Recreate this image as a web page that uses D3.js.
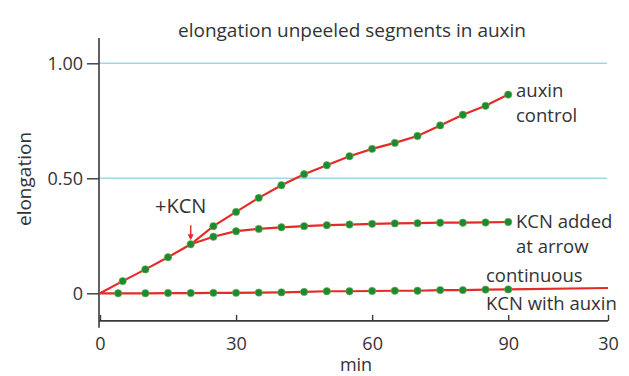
<!DOCTYPE html>
<html><head><meta charset="utf-8">
<script src="https://cdn.jsdelivr.net/npm/d3@7"></script>
<style>
html,body{margin:0;padding:0;background:#fff;}
text{font-family:"Open Sans",sans-serif;fill:#333;}
</style></head>
<body><svg id="c" width="629" height="376"></svg>
<script>
// ---- data ----
const auxinMin = [0,5,10,15,20,25,30,35,40,45,50,55,60,65,70,75,80,85,90];
const auxinVal = [0,0.053,0.104,0.157,0.213,0.292,0.354,0.415,0.47,0.518,0.557,0.596,0.628,0.654,0.684,0.73,0.776,0.815,0.864];
const kcnMin = [20,25,30,35,40,45,50,55,60,65,70,75,80,85,90];
const kcnVal = [0.213,0.246,0.27,0.28,0.287,0.292,0.296,0.299,0.302,0.304,0.305,0.307,0.307,0.308,0.31];
const contMin = [0,4,10,15,20,25,30,35,40,45,50,55,60,65,70,75,80,85,90,112];
const contVal = [0,0,0,0.001,0.001,0.002,0.002,0.003,0.004,0.006,0.009,0.009,0.01,0.011,0.011,0.014,0.014,0.016,0.017,0.023];
const xTicks = [0,30,60,90,112];
const xTickLabels = ["0","30","60","90","30"];
const yTicks = [0,0.5,1.0];
const yTickLabels = ["0","0.50","1.00"];
const gridVals = [0.5,1.0];
const kcnArrowAt = 20;

const svg = d3.select("#c");
const x = d3.scaleLinear().domain([0,112]).range([100,608]);
const y = d3.scaleLinear().domain([0,1]).range([293.3,63.3]);
const red = "#e52b27", green = "#1d8a33", axisCol = "#3a3a3a";

// gridlines
svg.selectAll("line.grid").data(gridVals).join("line")
  .attr("x1", x(0)-2).attr("x2", x(112)-1)
  .attr("y1", d=>y(d)).attr("y2", d=>y(d))
  .attr("stroke","#a3d5e9").attr("stroke-width",1.6);

// axes
const xAxis = d3.axisBottom(x).tickValues(xTicks).tickFormat((d,i)=>xTickLabels[i]).tickSizeInner(-6).tickSizeOuter(0).tickPadding(16);
const gx = svg.append("g").attr("transform",`translate(0,${y(-0.12)})`).call(xAxis);
const yAxis = d3.axisLeft(y).tickValues(yTicks).tickFormat((d,i)=>yTickLabels[i]).tickSizeInner(12).tickSizeOuter(0).tickPadding(4);
const gy = svg.append("g").attr("transform","translate(99,0)").call(yAxis);
[gx,gy].forEach(g=>{
  g.selectAll(".domain").attr("stroke",axisCol).attr("stroke-width",1.6);
  g.selectAll(".tick line").attr("stroke",axisCol).attr("stroke-width",1.4);
  g.selectAll(".tick text").attr("fill","#333").style("font-size","18px").style("font-family","'Open Sans',sans-serif");
});
gy.select(".domain").attr("d",`M0,${y(1.11)}V${y(-0.15)}`);
gx.select(".domain").attr("d",`M${x(0)-1},0H${x(112)}`);
gx.selectAll(".tick text").attr("dy","0.71em");

// lines
const line = d3.line().x(d=>x(d[0])).y(d=>y(d[1]));
const series = [
  {m:auxinMin, v:auxinVal, dots:auxinMin.map((d,i)=>i>0)},
  {m:kcnMin, v:kcnVal, dots:kcnMin.map((d,i)=>i>0)},
  {m:contMin, v:contVal, dots:contMin.map((d,i)=>i>0 && i<contMin.length-1)}
];
series.forEach(s=>{
  const pts = s.m.map((d,i)=>[d,s.v[i]]);
  svg.append("path").datum(pts).attr("d",line).attr("fill","none").attr("stroke",red).attr("stroke-width",2.2);
});
series.forEach(s=>{
  const pts = s.m.map((d,i)=>[d,s.v[i],s.dots[i]]).filter(p=>p[2]);
  svg.append("g").selectAll("circle").data(pts).join("circle")
    .attr("cx",d=>x(d[0])).attr("cy",d=>y(d[1])).attr("r",3.7)
    .attr("fill",green).attr("stroke","#6bb64c").attr("stroke-width",0.6);
});

// arrow for KCN addition
const ax = x(kcnArrowAt), ayv = auxinVal[auxinMin.indexOf(kcnArrowAt)];
svg.append("line").attr("x1",ax).attr("x2",ax).attr("y1",y(ayv)-19).attr("y2",y(ayv)-6)
  .attr("stroke",red).attr("stroke-width",1.5);
svg.append("path").attr("d",`M${ax-3},${y(ayv)-10}L${ax},${y(ayv)-4}L${ax+3},${y(ayv)-10}Z`).attr("fill",red);

// texts
svg.append("text").attr("x",352).attr("y",37).attr("text-anchor","middle").style("font-size","19px").text("elongation unpeeled segments in auxin");
svg.append("text").attr("transform","translate(31,179) rotate(-90)").attr("text-anchor","middle").style("font-size","19px").text("elongation");
svg.append("text").attr("x",356).attr("y",371).attr("text-anchor","middle").style("font-size","18px").text("min");
svg.append("text").attr("x",155).attr("y",213).style("font-size","20px").text("+KCN");
const lab = (t,xx,yy)=>svg.append("text").attr("x",xx).attr("y",yy).style("font-size","18.5px").text(t);
lab("auxin",516,97); lab("control",516,122);
lab("KCN added",516,228); lab("at arrow",516,253);
lab("continuous",486,282); lab("KCN with auxin",486,310);
</script></body></html>
